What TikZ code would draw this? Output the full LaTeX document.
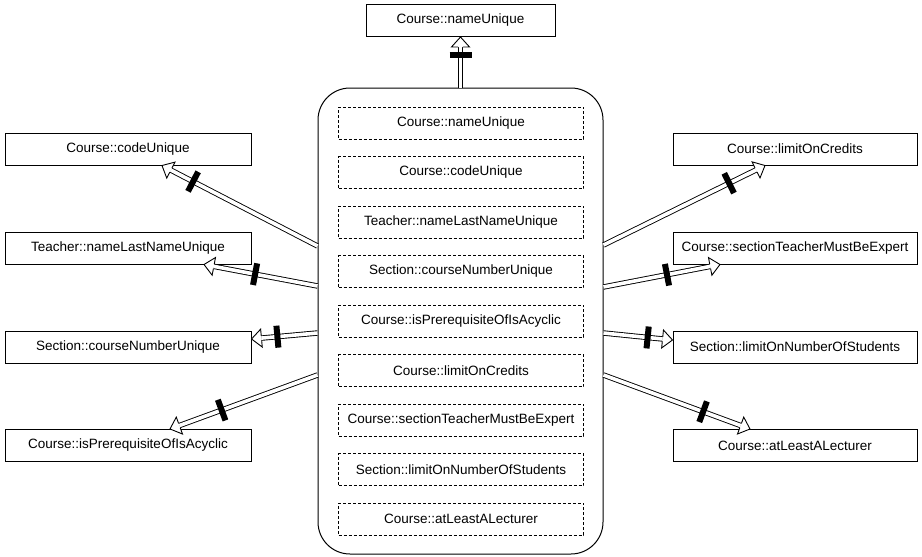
\documentclass[tikz,border=0pt]{standalone}
\usepackage{fontspec}
\setmainfont{Liberation Sans}
\usetikzlibrary{calc}
% dependency connector: double shaft, open head, black bar across the shaft
% #1 start coordinate, #2 tip coordinate, #3 distance of the bar from the tip
\newcommand{\depedge}[3]{%
  \coordinate (hb) at ($(#2)!10pt!(#1)$);
  \draw[dline] (#1) -- (hb);
  \fill[white] ($(hb)!9pt!90:(#2)$) -- (#2) -- ($(hb)!9pt!-90:(#2)$) -- cycle;
  \draw[headline] ($(hb)!2.3pt!90:(#2)$) -- ($(hb)!9pt!90:(#2)$) -- (#2)
    -- ($(hb)!9pt!-90:(#2)$) -- ($(hb)!2.3pt!-90:(#2)$);
  \coordinate (bm) at ($(#2)!#3!(#1)$);
  \draw[barline] ($(bm)!11pt!90:(#2)$) -- ($(bm)!11pt!-90:(#2)$);
}
\begin{document}
\begin{tikzpicture}[x=1pt,y=-1pt,
  txt/.style={font=\fontsize{13.5}{16}\selectfont},
  outerbox/.style={txt, draw, line width=1pt, minimum height=32pt, inner sep=0pt},
  innerbox/.style={txt, draw, line width=1pt, dash pattern=on 3pt off 2pt,
    minimum width=245pt, minimum height=32pt, inner sep=0pt},
  group/.style={draw, line width=1pt, rounded corners=32pt,
    minimum width=285pt, minimum height=466pt, inner sep=0pt},
  dline/.style={line width=0.9pt, double=white, double distance=3.6pt, line cap=butt},
  headline/.style={line width=0.9pt, line join=miter},
  barline/.style={line width=6pt, line cap=butt}
]
\useasboundingbox[fill=white] (0,0) rectangle (922,557);

% constraint group
\node[group] (grp) at (460.5,321) {};
\node[innerbox] (i1) at (461,123)   {Course::nameUnique};
\node[innerbox] (i2) at (461,172.5) {Course::codeUnique};
\node[innerbox] (i3) at (461,222)   {Teacher::nameLastNameUnique};
\node[innerbox] (i4) at (461,271.5) {Section::courseNumberUnique};
\node[innerbox] (i5) at (461,321)   {Course::isPrerequisiteOfIsAcyclic};
\node[innerbox] (i6) at (461,370.5) {Course::limitOnCredits};
\node[innerbox] (i7) at (461,420)   {Course::sectionTeacherMustBeExpert};
\node[innerbox] (i8) at (461,469.5) {Section::limitOnNumberOfStudents};
\node[innerbox] (i9) at (461,519)   {Course::atLeastALecturer};

% individual constraints
\node[outerbox, minimum width=189pt] (top) at (460.5,20.5) {Course::nameUnique};
\node[outerbox, minimum width=246pt] (codeU) at (128,149) {Course::codeUnique};
\node[outerbox, minimum width=246pt] (teach) at (128,248) {Teacher::nameLastNameUnique};
\node[outerbox, minimum width=246pt] (secC)  at (128,347) {Section::courseNumberUnique};
\node[outerbox, minimum width=246pt] (isPre) at (128,445.5) {Course::isPrerequisiteOfIsAcyclic};
\node[outerbox, minimum width=244pt] (lim)   at (795,149) {Course::limitOnCredits};
\node[outerbox, minimum width=244pt] (sectT) at (795,248) {Course::sectionTeacherMustBeExpert};
\node[outerbox, minimum width=244pt] (secL)  at (795,347) {Section::limitOnNumberOfStudents};
\node[outerbox, minimum width=244pt] (atL)   at (795,445.5) {Course::atLeastALecturer};

% connector ends on the group border
\coordinate (sT) at (grp.north);
\coordinate (sL1) at ($(grp.west)+(0,-75)$);
\coordinate (sL2) at ($(grp.west)+(0,-35)$);
\coordinate (sL3) at ($(grp.west)+(0,12)$);
\coordinate (sL4) at ($(grp.west)+(0,54)$);
\coordinate (sR1) at ($(grp.east)+(0,-76)$);
\coordinate (sR2) at ($(grp.east)+(0,-34)$);
\coordinate (sR3) at ($(grp.east)+(0,12)$);
\coordinate (sR4) at ($(grp.east)+(0,54)$);

% connector tips on the constraint boxes
\coordinate (tT) at (top.south);
\coordinate (tL1) at ($(codeU.south)+(34,0)$);
\coordinate (tL2) at ($(teach.south)+(76,0)$);
\coordinate (tL3) at ($(secC.east)+(0,-8)$);
\coordinate (tL4) at ($(isPre.north)+(42,0)$);
\coordinate (tR1) at ($(lim.south)+(-30,0)$);
\coordinate (tR2) at ($(sectT.south)+(-75,0)$);
\coordinate (tR3) at ($(secL.west)+(0,-7)$);
\coordinate (tR4) at ($(atL.north)+(-45,0)$);

\depedge{sT}{tT}{18pt}
\depedge{sL1}{tL1}{35pt}
\depedge{sL2}{tL2}{52pt}
\depedge{sL3}{tL3}{26pt}
\depedge{sL4}{tL4}{55pt}
\depedge{sR1}{tR1}{40pt}
\depedge{sR2}{tR2}{54pt}
\depedge{sR3}{tR3}{25pt}
\depedge{sR4}{tR4}{50pt}
\end{tikzpicture}
\end{document}
